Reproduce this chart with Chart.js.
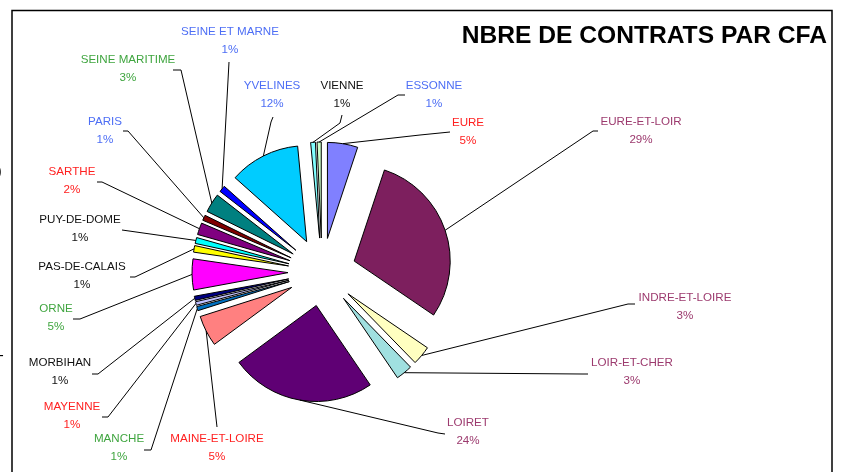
<!DOCTYPE html>
<html>
<head>
<meta charset="utf-8">
<script src="https://cdn.jsdelivr.net/npm/chart.js@4.4.0/dist/chart.umd.min.js"></script>
<style>
  body { margin: 0; background: #fff; }
  canvas { display: block; }
</style>
</head>
<body>
<canvas id="cfaPie" width="841" height="472"></canvas>
<script>
// données (ordre des parts, sens horaire depuis midi)
const departements = [
  'EURE', 'EURE-ET-LOIR', 'INDRE-ET-LOIRE', 'LOIR-ET-CHER', 'LOIRET',
  'MAINE-ET-LOIRE', 'MANCHE', 'MAYENNE', 'MORBIHAN', 'ORNE',
  'PAS-DE-CALAIS', 'PUY-DE-DOME', 'SARTHE', 'PARIS', 'SEINE MARITIME',
  'SEINE ET MARNE', 'YVELINES', 'VIENNE', 'ESSONNE'
];
const contrats = [
  5.1, 29.4, 3.2, 2.8, 24.4,
  5.2, 0.7, 0.6, 0.7, 5.2,
  1.1, 1.0, 2.0, 0.9, 3.2,
  1.1, 11.9, 0.8, 0.7
];
const couleurs = [
  '#8080ff', '#7d1f5e', '#ffffc0', '#a0e0e0', '#5f0074',
  '#ff8080', '#0070c0', '#c0c0ff', '#000080', '#ff00ff',
  '#ffff00', '#00ffff', '#800080', '#800000', '#008080',
  '#0000ff', '#00ccff', '#80ffff', '#ccffcc'
];
const BLEU = '#4d6ef5', VERT = '#3fa53f', ROUGE = '#ff2020', PRUNE = '#9c3a6e', NOIR = '#111';
const couleursTexte = [
  ROUGE, PRUNE, PRUNE, PRUNE, PRUNE,
  ROUGE, VERT, ROUGE, NOIR, VERT,
  NOIR, NOIR, ROUGE, BLEU, VERT,
  BLEU, BLEU, NOIR, BLEU
];

// mise en page des étiquettes : position du texte + coudes des traits de rappel (côté part -> côté texte)
const etiquettesPos = [
  { x: 468, y: 123, trait: [[420, 135], [450, 132]] },
  { x: 641, y: 122, trait: [[593, 131], [598, 131]] },
  { x: 685, y: 298, trait: [[628, 304], [635, 304]] },
  { x: 632, y: 363, trait: [[582, 374], [588, 374]] },
  { x: 468, y: 423, trait: [[438, 433], [445, 434]] },
  { x: 217, y: 439, trait: [[217, 427]] },
  { x: 119, y: 439, trait: [[151, 450], [144, 450]] },
  { x: 72,  y: 407, trait: [[108, 417], [102, 417]] },
  { x: 60,  y: 363, trait: [[98, 374], [92, 374]] },
  { x: 56,  y: 309, trait: [[80, 319], [73, 319]] },
  { x: 82,  y: 267, trait: [[135, 277], [130, 277]] },
  { x: 80,  y: 220, trait: [[122, 230]] },
  { x: 72,  y: 172, trait: [[102, 182], [97, 182]] },
  { x: 105, y: 122, trait: [[128, 131], [123, 131]] },
  { x: 128, y: 60,  trait: [[181, 70], [173, 70]] },
  { x: 230, y: 32,  trait: [[229, 62]] },
  { x: 272, y: 86,  trait: [[271, 122], [273, 117]] },
  { x: 342, y: 86,  trait: [[340, 123], [342, 115]] },
  { x: 434, y: 86,  trait: [[398, 95], [405, 95]] }
];

const ECLATEMENT = 34;
const POLICE = '"Liberation Sans", Arial, sans-serif';

// chaque part est décalée vers l'extérieur, même rayon pour toutes
const eclatement = {
  id: 'eclatement',
  afterDatasetUpdate(chart, args) {
    args.meta.data.forEach(arc => {
      const mid = (arc.startAngle + arc.endAngle) / 2;
      arc.x += Math.cos(mid) * ECLATEMENT;
      arc.y += Math.sin(mid) * ECLATEMENT;
    });
  }
};

const decor = {
  id: 'decor',
  afterDraw(chart) {
    const ctx = chart.ctx;
    const arcs = chart.getDatasetMeta(0).data;
    const total = contrats.reduce((a, b) => a + b, 0);
    ctx.save();

    // cadre
    ctx.strokeStyle = '#000';
    ctx.lineWidth = 1.5;
    ctx.strokeRect(12, 10.5, 820, 480);

    // titre
    ctx.fillStyle = '#000';
    ctx.font = 'bold 24.6px ' + POLICE;
    ctx.textAlign = 'right';
    ctx.textBaseline = 'alphabetic';
    ctx.fillText('NBRE DE CONTRATS PAR CFA', 827, 43);

    // restes en marge gauche
    ctx.font = '14px ' + POLICE;
    ctx.textAlign = 'left';
    ctx.textBaseline = 'middle';
    ctx.fillText(')', -3, 172);
    ctx.fillText('-', -1, 356);

    // traits de rappel
    ctx.strokeStyle = '#000';
    ctx.lineWidth = 1;
    arcs.forEach((arc, i) => {
      const p = etiquettesPos[i];
      const mid = (arc.startAngle + arc.endAngle) / 2;
      ctx.beginPath();
      ctx.moveTo(arc.x + Math.cos(mid) * arc.outerRadius, arc.y + Math.sin(mid) * arc.outerRadius);
      p.trait.forEach(pt => ctx.lineTo(pt[0], pt[1]));
      ctx.stroke();
    });

    // textes
    ctx.font = '11.6px ' + POLICE;
    ctx.textAlign = 'center';
    arcs.forEach((arc, i) => {
      const p = etiquettesPos[i];
      ctx.fillStyle = couleursTexte[i];
      ctx.fillText(departements[i], p.x, p.y);
      ctx.fillText(Math.round(contrats[i] / total * 100) + '%', p.x, p.y + 18);
    });
    ctx.restore();
  }
};

new Chart(document.getElementById('cfaPie'), {
  type: 'pie',
  data: {
    labels: departements,
    datasets: [{
      data: contrats,
      backgroundColor: couleurs,
      borderColor: '#000',
      borderWidth: 1
    }]
  },
  options: {
    responsive: false,
    animation: false,
    events: [],
    radius: 96,
    layout: { padding: { left: 0, right: 197, top: 72, bottom: 0 } },
    plugins: {
      legend: { display: false },
      tooltip: { enabled: false },
      title: { display: false }
    }
  },
  plugins: [eclatement, decor]
});
</script>
</body>
</html>
